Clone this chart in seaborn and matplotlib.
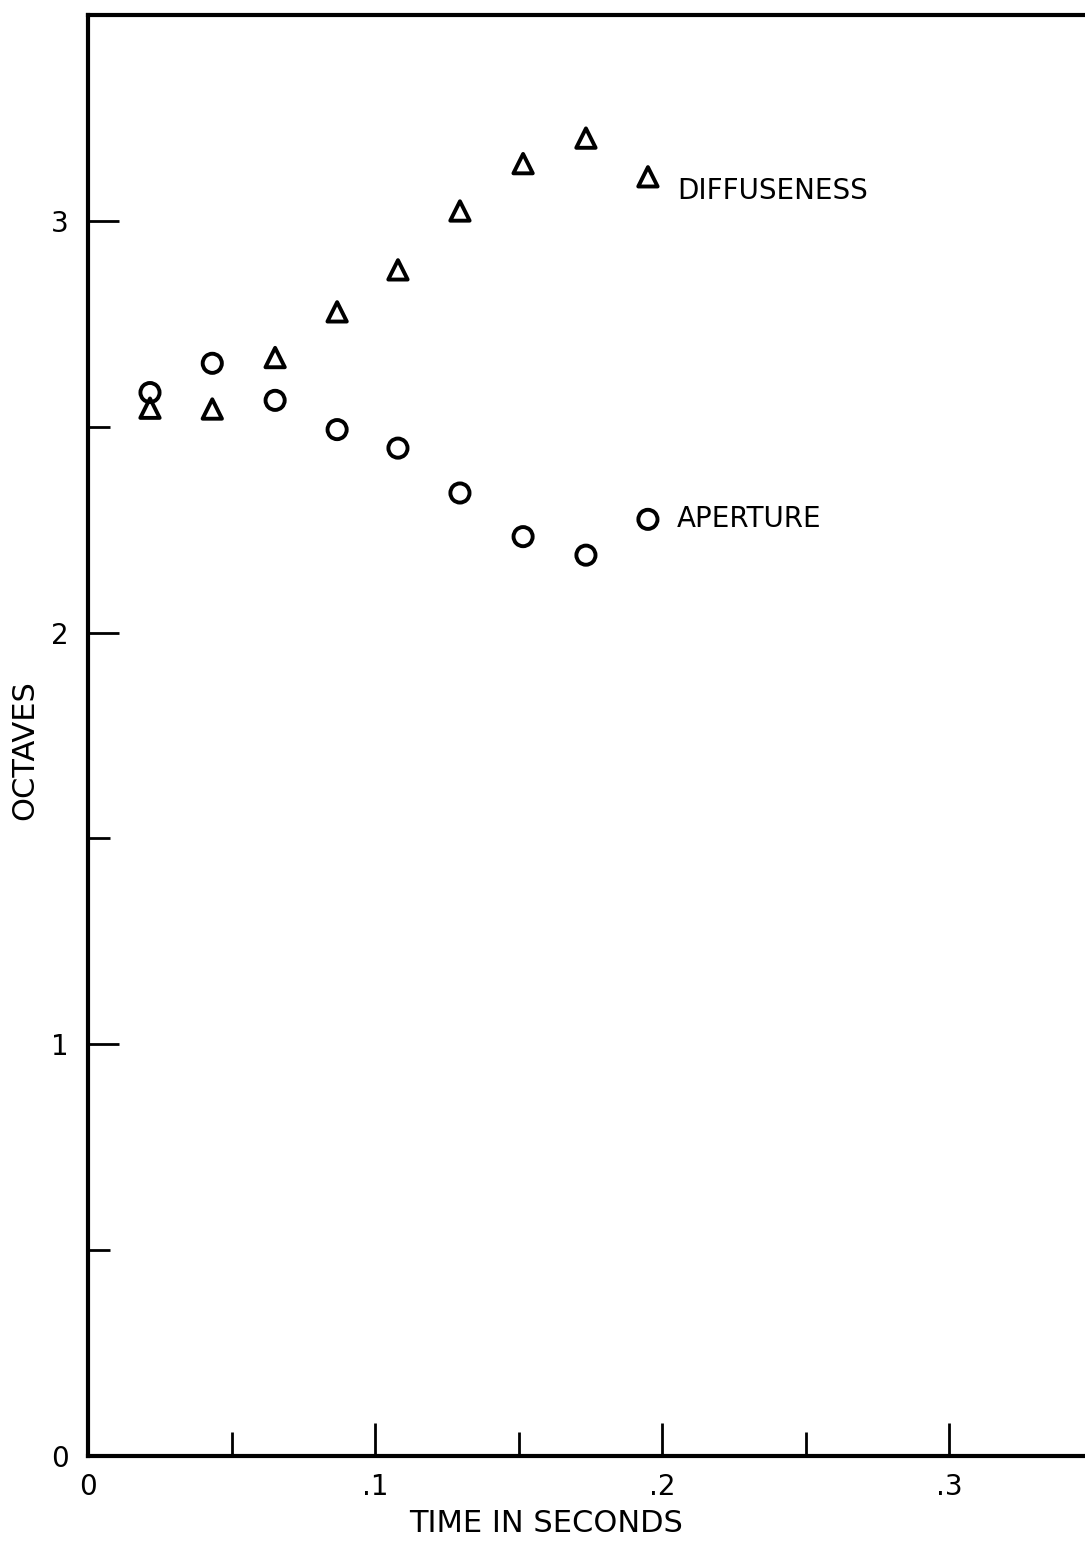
import matplotlib
matplotlib.use('Agg')
import matplotlib.pyplot as plt
import seaborn as sns
import pandas as pd
from matplotlib.ticker import MultipleLocator

# values
time_s = [0.0216, 0.0433, 0.0652, 0.0868, 0.108, 0.1296, 0.1516, 0.1735, 0.1951]
diffuseness = [2.545, 2.543, 2.668, 2.779, 2.881, 3.024, 3.139, 3.201, 3.107]
aperture = [2.583, 2.654, 2.564, 2.493, 2.448, 2.339, 2.233, 2.188, 2.275]

x_ticks = [0, 0.1, 0.2, 0.3]
x_tick_labels = ['0', '.1', '.2', '.3']
y_ticks = [0, 1, 2, 3]
y_tick_labels = ['0', '1', '2', '3']

df = pd.DataFrame({'time': time_s, 'diffuseness': diffuseness, 'aperture': aperture})

sns.set_style('ticks')
plt.rcParams['font.family'] = ['DejaVu Sans']
plt.rcParams['text.color'] = 'black'
plt.rcParams['axes.labelcolor'] = 'black'
plt.rcParams['xtick.labelcolor'] = 'black'
plt.rcParams['ytick.labelcolor'] = 'black'

fig = plt.figure(figsize=(10.85, 15.43), dpi=100)
ax = fig.add_axes([88 / 1085, 87 / 1543, 997 / 1085, 1441 / 1543])

sns.scatterplot(data=df, x='time', y='diffuseness', marker='^', s=195,
                facecolors='none', edgecolor='black', linewidth=2.8, ax=ax)
sns.scatterplot(data=df, x='time', y='aperture', marker='o', s=190,
                facecolors='none', edgecolor='black', linewidth=2.8, ax=ax)

ax.text(0.2052, 3.052, 'DIFFUSENESS', fontsize=20, ha='left', va='baseline', color='black')
ax.text(0.2052, 2.256, 'APERTURE', fontsize=20, ha='left', va='baseline', color='black')

ax.set_xlim(0, 997 / 2870)
ax.set_ylim(0, 3.5)

ax.set_xticks(x_ticks)
ax.set_xticklabels(x_tick_labels)
ax.set_yticks(y_ticks)
ax.set_yticklabels(y_tick_labels)
ax.xaxis.set_minor_locator(MultipleLocator(0.05))
ax.yaxis.set_minor_locator(MultipleLocator(0.5))

ax.tick_params(axis='x', which='major', direction='in', length=24, width=2,
               labelsize=20, pad=12, color='black', labelcolor='black')
ax.tick_params(axis='x', which='minor', direction='in', length=17, width=2, color='black')
ax.tick_params(axis='y', which='major', direction='in', length=22, width=2,
               labelsize=20, pad=14, color='black', labelcolor='black')
ax.tick_params(axis='y', which='minor', direction='in', length=16, width=2, color='black')

for side in ['left', 'bottom', 'top']:
    ax.spines[side].set_linewidth(3)
    ax.spines[side].set_color('black')
ax.spines['right'].set_visible(False)

ax.set_xlabel('TIME IN SECONDS', fontsize=22, color='black')
ax.set_ylabel('OCTAVES', fontsize=22, color='black')
ax.xaxis.set_label_coords(0.459, -0.047)
ax.yaxis.set_label_coords(-0.063, 0.49)
ax.xaxis.label.set_va('center')
ax.yaxis.label.set_va('center')

fig.savefig('out.png', dpi=100)
